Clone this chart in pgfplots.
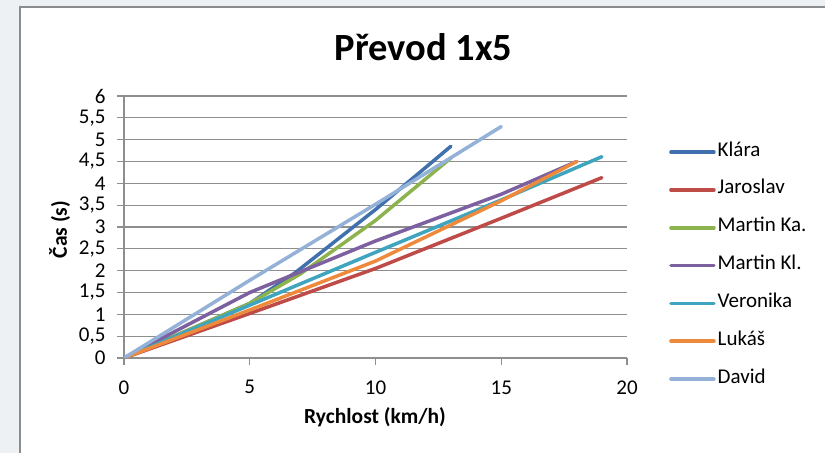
\documentclass[border=0pt]{standalone}
\usepackage{pgfplots}
\pgfplotsset{compat=1.18}
\usepackage{fontspec}
\setmainfont{Carlito}
\definecolor{bgc}{HTML}{EDF1F4}
\definecolor{framec}{HTML}{8C8C8C}
\definecolor{gridc}{HTML}{8E8E8E}
\definecolor{cKlara}{HTML}{4070AD}
\definecolor{cJaro}{HTML}{BE4B48}
\definecolor{cMKa}{HTML}{8DB34F}
\definecolor{cMKl}{HTML}{7D60A0}
\definecolor{cVer}{HTML}{3FA4BE}
\definecolor{cLuk}{HTML}{EE8A3C}
\definecolor{cDav}{HTML}{94B2D8}
\begin{document}
\begin{tikzpicture}[x=1bp,y=1bp]
\path[use as bounding box] (0,0) rectangle (825,453);
\clip (0,0) rectangle (825,453);
\fill[bgc] (0,0) rectangle (825,453);
\draw[framec, line width=2bp, fill=white] (20,-20) rectangle (860,445.5);
\node[font=\fontsize{38.5bp}{44bp}\selectfont\bfseries] at (423.5,406) {Převod 1x5};
\begin{axis}[
  at={(124bp,95bp)}, anchor=south west,
  scale only axis, width=503bp, height=262bp,
  xmin=0, xmax=20, ymin=0, ymax=6,
  axis x line=bottom, axis y line=left,
  axis line style={-, gridc, line width=1.3bp},
  xtick={0,5,10,15,20},
  ytick={0,0.5,...,6},
  ymajorgrids, grid style={gridc, line width=1.3bp},
  tick style={gridc, line width=1.3bp},
  tick align=outside, major tick length=7bp,
  /pgf/number format/use comma,
  /pgf/number format/assume math mode=true,
  tick label style={font=\fontsize{21bp}{24bp}\selectfont, black},
  xticklabel style={yshift=-12bp},
  yticklabel style={xshift=-8bp},
  xlabel={Rychlost (km/h)}, ylabel={Čas (s)},
  label style={font=\fontsize{21.5bp}{24bp}\selectfont\bfseries},
  xlabel style={at={(axis description cs:0.499,-0.227)}, anchor=center},
  ylabel style={at={(axis description cs:-0.128,0.49)}, anchor=center, rotate=0},
  legend cell align=left,
  legend style={at={(axis description cs:1.0835,0.8206)}, anchor=north west,
    draw=none, fill=none, inner sep=0pt, row sep=19.8bp, column sep=2bp,
    font=\fontsize{21bp}{24bp}\selectfont,
    nodes={inner sep=0pt, text height=13bp, text depth=5bp}},
  legend image code/.code={\draw[#1, line width=3.5bp] (0bp,0bp) -- (43bp,0bp);},
  every axis plot/.append style={line width=3.5bp, line cap=round, line join=round},
]
\addplot[cKlara] coordinates {(0,0) (5,1.25) (6.8,1.95) (10,3.4) (13,4.85)};
\addlegendentry{Klára}
\addplot[cJaro] coordinates {(0,0) (5,1.02) (10,2.05) (15,3.2) (19,4.13)};
\addlegendentry{Jaroslav}
\addplot[cMKa] coordinates {(0,0) (5,1.25) (7,1.92) (10,3.15) (13,4.58)};
\addlegendentry{Martin Ka.}
\addplot[cMKl] coordinates {(0,0) (5,1.5) (10,2.68) (15,3.75) (18,4.5)};
\addlegendentry{Martin Kl.}
\addplot[cVer] coordinates {(0,0) (5,1.21) (10,2.42) (15,3.62) (19,4.61)};
\addlegendentry{Veronika}
\addplot[cLuk] coordinates {(0,0) (5,1.1) (10,2.22) (15,3.6) (18,4.5)};
\addlegendentry{Lukáš}
\addplot[cDav] coordinates {(0,0) (5,1.78) (10,3.52) (15,5.3)};
\addlegendentry{David}
\end{axis}
\end{tikzpicture}
\end{document}
